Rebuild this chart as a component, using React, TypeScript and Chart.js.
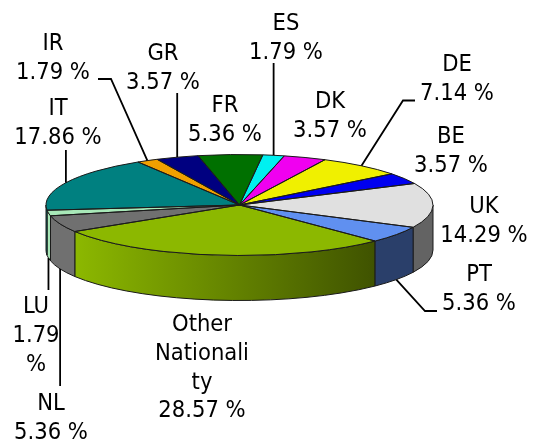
import React, { useEffect, useRef } from "react";
import { Chart, registerables } from "chart.js";

Chart.register(...registerables);

const categories = ["Other Nationality", "NL", "LU", "IT", "IR", "GR", "FR", "ES", "DK", "DE", "BE", "UK", "PT"];
const shares = [28.57, 5.36, 1.79, 17.86, 1.79, 3.57, 5.36, 1.79, 3.57, 7.14, 3.57, 14.29, 5.36];
const topColors = ["#8CB800", "#707070", "#A8E8B8", "#008080", "#F0A000", "#000080", "#007000", "#00F0F0", "#F000F0", "#F0F000", "#0000F0", "#E0E0E0", "#6090F0"];
const labelLines = [
  ["Other", "Nationali", "ty", "28.57 %"],
  ["NL", "5.36 %"],
  ["LU", "1.79", "%"],
  ["IT", "17.86 %"],
  ["IR", "1.79 %"],
  ["GR", "3.57 %"],
  ["FR", "5.36 %"],
  ["ES", "1.79 %"],
  ["DK", "3.57 %"],
  ["DE", "7.14 %"],
  ["BE", "3.57 %"],
  ["UK", "14.29 %"],
  ["PT", "5.36 %"],
];
// label centre x, y of first line
const labelAnchors: [number, number][] = [
  [202, 325], [51, 404], [36, 307], [58, 109], [53, 44], [163, 54], [225, 106],
  [286, 24], [330, 102], [457, 65], [451, 137], [484, 207], [479, 275],
];
// leader-line bends after the rim point; a null x keeps the rim point's x (null entry: no leader)
const leaders: ([number | null, number][] | null)[] = [
  null,
  [[null, 386]],
  [[null, 290]],
  [[null, 150]],
  [[111, 79], [98, 79]],
  [[null, 93]],
  null,
  [[null, 63]],
  null,
  [[403, 100.5], [415, 100.5]],
  null,
  null,
  [[425, 311], [437, 311]],
];

const CX = 239.5, CY = 205, RX = 193.5, RY = 50.5, DEPTH = 45;
const FONT = '23.5px "DejaVu Sans Condensed", "DejaVu Sans"';
const LINE = 28.7;

function shade(hex: string, f: number) {
  const n = parseInt(hex.slice(1), 16);
  const r = Math.round(((n >> 16) & 255) * f), g = Math.round(((n >> 8) & 255) * f), b = Math.round((n & 255) * f);
  return `rgb(${r},${g},${b})`;
}

function ellipsePath(ctx: CanvasRenderingContext2D, dy: number, a: number, b: number, ccw = false) {
  ctx.ellipse(CX, CY + dy, RX, RY, 0, a, b, ccw);
}

const pie3d = {
  id: "pie3d",
  beforeDatasetsDraw(chart: any) {
    const ctx: CanvasRenderingContext2D = chart.ctx;
    const arcs = chart.getDatasetMeta(0).data;
    ctx.save();
    ctx.lineWidth = 1;
    ctx.strokeStyle = "#1a1a1a";
    arcs.forEach((arc: any, i: number) => {
      for (const k of [-1, 0, 1]) {
        const a = Math.max(arc.startAngle + k * 2 * Math.PI, 0);
        const b = Math.min(arc.endAngle + k * 2 * Math.PI, Math.PI);
        if (b <= a) continue;
        const g = ctx.createLinearGradient(75, 0, 380, 0);
        g.addColorStop(0, topColors[i]);
        g.addColorStop(1, shade(topColors[i], 0.44));
        ctx.beginPath();
        ellipsePath(ctx, 0, a, b);
        ellipsePath(ctx, DEPTH, b, a, true);
        ctx.closePath();
        ctx.fillStyle = g;
        ctx.fill();
        ctx.stroke();
      }
    });
    ctx.restore();
    ctx.save();
    const c = arcs[0];
    ctx.translate(CX, CY);
    ctx.scale(1, RY / RX);
    ctx.translate(-c.x, -c.y);
  },
  afterDatasetsDraw(chart: any) {
    const ctx: CanvasRenderingContext2D = chart.ctx;
    ctx.restore();
    const arcs = chart.getDatasetMeta(0).data;
    ctx.save();
    ctx.lineWidth = 1;
    ctx.strokeStyle = "#1a1a1a";
    arcs.forEach((arc: any) => {
      ctx.beginPath();
      ctx.moveTo(CX, CY);
      ellipsePath(ctx, 0, arc.startAngle, arc.endAngle);
      ctx.closePath();
      ctx.stroke();
    });
    // labels and leaders
    ctx.strokeStyle = "#000";
    ctx.lineWidth = 1.8;
    arcs.forEach((arc: any, i: number) => {
      const bends = leaders[i];
      if (bends) {
        const mid = (arc.startAngle + arc.endAngle) / 2;
        const s = Math.sin(mid);
        const sx = CX + RX * Math.cos(mid);
        ctx.beginPath();
        ctx.moveTo(sx, CY + RY * s + (s > 0 ? DEPTH : 0));
        bends.forEach(([x, y]) => ctx.lineTo(x ?? sx, y));
        ctx.stroke();
      }
    });
    ctx.fillStyle = "#000";
    ctx.font = FONT;
    ctx.textAlign = "center";
    ctx.textBaseline = "middle";
    labelLines.forEach((lines, i) => {
      const [x, y] = labelAnchors[i];
      lines.forEach((t, j) => ctx.fillText(t, x, y + j * LINE));
    });
    ctx.restore();
  },
};

export default function App() {
  const ref = useRef<HTMLCanvasElement>(null);
  useEffect(() => {
    document.body.style.margin = "0";
    document.body.style.background = "#fff";
    const chart = new Chart(ref.current!, {
      type: "pie",
      data: {
        labels: categories,
        datasets: [{ data: shares, backgroundColor: topColors, borderWidth: 0 }],
      },
      options: {
        responsive: false,
        animation: false,
        rotation: 135.5,
        layout: { padding: { left: 46, right: 100, top: 11.5, bottom: 47.5 } },
        plugins: { legend: { display: false }, tooltip: { enabled: false } },
      },
      plugins: [pie3d],
    } as any);
    return () => chart.destroy();
  }, []);
  return <canvas ref={ref} width={533} height={446} style={{ display: "block" }} />;
}
